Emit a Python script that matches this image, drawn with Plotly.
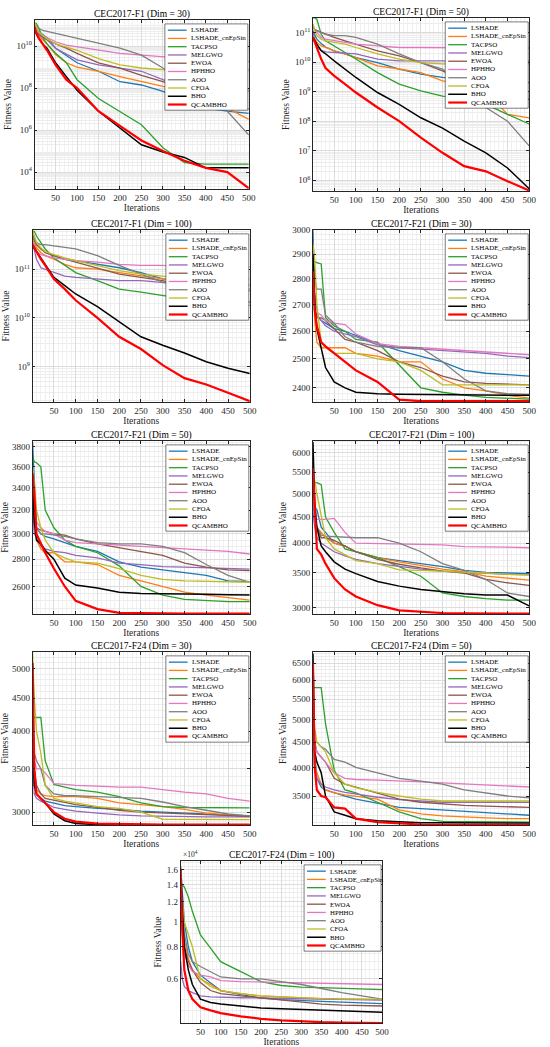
import numpy as np
import plotly.graph_objects as go

ITERS = [1, 5, 10, 20, 30, 50, 75, 100, 150, 200, 250, 300, 350, 400, 450, 500]

NAMES = ["LSHADE", "LSHADE_cnEpSin", "TACPSO", "MELGWO", "EWOA",
         "HPHHO", "AOO", "CFOA", "BHO", "QCAMBHO"]
COLORS = ["#1f77b4", "#ff7f0e", "#2ca02c", "#9467bd", "#8c564b",
          "#e377c2", "#7f7f7f", "#bcbd22", "#000000", "#ff0000"]
WIDTHS = [1.3, 1.3, 1.3, 1.3, 1.3, 1.3, 1.3, 1.3, 1.5, 2.2]

# ---- CEC2017-F1 ----
F1_D30 = {
    "LSHADE": [1e11, 6.3e10, 5e10, 3.5e10, 2.5e10, 7.9e9, 3.7e9, 1.6e9, 6.3e8, 2e8, 1.4e8, 7e7, 2.3e7, 1.1e7, 7.9e6, 6.3e6],
    "LSHADE_cnEpSin": [1e11, 5e10, 3.2e10, 2e10, 1.26e10, 4e9, 1.6e9, 1e9, 6.3e8, 3.5e8, 2e8, 1.2e8, 7.9e7, 3.2e7, 1.1e7, 3.2e6],
    "TACPSO": [1.2e11, 1.2e11, 7.9e10, 2.5e10, 1.26e10, 4.5e9, 1.6e9, 2.5e8, 3.2e7, 7.9e6, 1.8e6, 1.45e5, 2.8e4, 2.4e4, 2.4e4, 2.4e4],
    "MELGWO": [7e10, 5e10, 3.5e10, 2.5e10, 2e10, 7.9e9, 4e9, 2.2e9, 1.26e9, 9e8, 6.3e8, 2.5e8, 1e8, 1e8, 7.9e7, 7.4e7],
    "EWOA": [7.9e10, 5e10, 4e10, 2.8e10, 2e10, 1.26e10, 7.9e9, 4.5e9, 1.6e9, 9e8, 4e8, 2e8, 7.9e7, 5e7, 2.3e7, 1e7],
    "HPHHO": [7e10, 5.6e10, 4.5e10, 3.2e10, 2.5e10, 1.6e10, 1.1e10, 9.3e9, 6.3e9, 4.5e9, 3.7e9, 3.2e9, 2.6e9, 2.2e9, 1.9e9, 1.8e9],
    "AOO": [1.2e11, 9e10, 7e10, 5.6e10, 5e10, 4e10, 3.2e10, 2.3e10, 1.35e10, 7.9e9, 3.7e9, 9e8, 1.4e8, 3.2e7, 7.9e6, 5.8e5],
    "CFOA": [1.4e11, 7.9e10, 5e10, 3.2e10, 2.2e10, 1.26e10, 9e9, 6.3e9, 2.5e9, 1.26e9, 9e8, 7.6e8, 7.4e8, 7.4e8, 7.4e8, 7.4e8],
    "BHO": [7.9e10, 4e10, 2.5e10, 1.26e10, 7.9e9, 1.6e9, 3.5e8, 7.9e7, 7.9e6, 1.26e6, 2e5, 9e4, 5e4, 1.6e4, 1.6e4, 1.6e4],
    "QCAMBHO": [7.9e10, 4e10, 2.5e10, 1.26e10, 6.3e9, 1.26e9, 2.5e8, 1e8, 7.9e6, 1.6e6, 3.2e5, 1e5, 3.5e4, 1.6e4, 1e4, 1.7e3],
}
F1_D50 = {
    "LSHADE": [1.15e11, 8.9e10, 5.9e10, 4.2e10, 3.2e10, 2.4e10, 1.9e10, 1.4e10, 9.5e9, 5.8e9, 3.9e9, 3e9, 2.6e9, 2.6e9, 2.3e9, 2e9],
    "LSHADE_cnEpSin": [8.7e10, 6.8e10, 4.6e10, 3.5e10, 3.2e10, 2.4e10, 1.9e10, 1.4e10, 7.4e9, 5.8e9, 4.4e9, 2.3e9, 1.8e9, 1.05e9, 1.7e8, 1.3e8],
    "TACPSO": [3.1e11, 3.1e11, 2.8e11, 8.7e10, 5.2e10, 3.5e10, 2.1e10, 1.26e10, 4.4e9, 1.8e9, 1.05e9, 7e8, 5.5e8, 3.7e8, 1.7e8, 8e7],
    "MELGWO": [1.15e11, 5.2e10, 3.2e10, 2.5e10, 2.2e10, 2.1e10, 2e10, 1.9e10, 1.26e10, 1.1e10, 1.1e10, 1.1e10, 1.1e10, 1.1e10, 1.1e10, 1.1e10],
    "EWOA": [1.5e11, 1.26e11, 1.15e11, 1e11, 8.7e10, 6.8e10, 5.2e10, 4e10, 2.4e10, 1.6e10, 9.5e9, 5e9, 2.3e9, 7e8, 5.5e8, 5.5e8],
    "HPHHO": [1.9e11, 1.26e11, 1e11, 6.8e10, 5.9e10, 5.2e10, 4.6e10, 4e10, 3.5e10, 3.1e10, 3.1e10, 3.1e10, 3.1e10, 3.1e10, 2.95e10, 2.95e10],
    "AOO": [1.5e11, 1.26e11, 1.15e11, 1e11, 8.7e10, 7.8e10, 7.8e10, 6.8e10, 4e10, 1.9e10, 9.5e9, 5.8e9, 1.4e9, 2.9e8, 1e8, 1.45e7],
    "CFOA": [1.9e11, 1.15e11, 7.8e10, 5.9e10, 5.2e10, 4.6e10, 4e10, 3.1e10, 1.9e10, 1.26e10, 9.5e9, 8.7e9, 8.7e9, 8.7e9, 8.7e9, 8.7e9],
    "BHO": [6.8e10, 5.2e10, 4e10, 2.4e10, 1.9e10, 1.1e10, 5.8e9, 3e9, 9.3e8, 3.7e8, 1.3e8, 5.8e7, 2.1e7, 8.5e6, 2.6e6, 5.2e5],
    "QCAMBHO": [6.8e10, 4.6e10, 3.2e10, 1.26e10, 6.3e9, 3.4e9, 1.8e9, 9.3e8, 2.9e8, 1e8, 2.75e7, 8.5e6, 3e6, 2e6, 9.3e5, 4.5e5],
}
F1_D100 = {
    "LSHADE": [4.8e11, 3.8e11, 3.2e11, 2.6e11, 2.2e11, 1.9e11, 1.6e11, 1.5e11, 1.26e11, 1.07e11, 8.5e10, 6.3e10, 5.4e10, 4.6e10, 3.9e10, 3.6e10],
    "LSHADE_cnEpSin": [4.1e11, 3.5e11, 2.75e11, 2.2e11, 1.9e11, 1.6e11, 1.26e11, 1.07e11, 1e11, 8.5e10, 7.2e10, 6.3e10, 5.4e10, 4.3e10, 3.4e10, 2.1e10],
    "TACPSO": [6e11, 6e11, 4.8e11, 3.5e11, 2.6e11, 1.7e11, 1.2e11, 8.5e10, 5.8e10, 3.9e10, 3.4e10, 2.9e10, 2.45e10, 2.3e10, 1.95e10, 1.8e10],
    "MELGWO": [3.5e11, 2.6e11, 1.6e11, 1.07e11, 1e11, 8.5e10, 7.2e10, 6.8e10, 6.3e10, 5.8e10, 5.8e10, 5.4e10, 4.9e10, 4.9e10, 4.7e10, 4.7e10],
    "EWOA": [5.1e11, 4.1e11, 3.2e11, 2.6e11, 2.2e11, 1.9e11, 1.6e11, 1.4e11, 1.07e11, 7.9e10, 6.8e10, 5.8e10, 4.3e10, 3.4e10, 2.6e10, 2.1e10],
    "HPHHO": [3.8e11, 3e11, 2.3e11, 2e11, 1.9e11, 1.7e11, 1.6e11, 1.5e11, 1.4e11, 1.26e11, 1.2e11, 1.2e11, 1.12e11, 1.12e11, 1.12e11, 1.12e11],
    "AOO": [4.8e11, 4.1e11, 3.5e11, 3.2e11, 3.2e11, 3e11, 2.75e11, 2.6e11, 1.9e11, 1.2e11, 7.9e10, 5.4e10, 4.3e10, 4.3e10, 3.9e10, 3.9e10],
    "CFOA": [6.4e11, 4.8e11, 3.5e11, 2.75e11, 2.3e11, 2e11, 1.7e11, 1.5e11, 1.2e11, 9.3e10, 7.9e10, 7.2e10, 6.3e10, 6.3e10, 6.3e10, 6.3e10],
    "BHO": [3e11, 2.6e11, 2.3e11, 1.7e11, 1.26e11, 6.8e10, 4.6e10, 3.1e10, 1.7e10, 8.3e9, 4.1e9, 2.75e9, 1.9e9, 1.26e9, 9.3e8, 7.2e8],
    "QCAMBHO": [3.2e11, 2.75e11, 2.3e11, 1.6e11, 1.2e11, 6.3e10, 3.9e10, 2.3e10, 1e10, 4.1e9, 2.3e9, 1.07e9, 5.8e8, 4.3e8, 2.9e8, 1.95e8],
}

# ---- CEC2017-F21 ----
F21_D30 = {
    "LSHADE": [3000, 2750, 2660, 2640, 2630, 2610, 2600, 2585, 2555, 2530, 2510, 2490, 2460, 2450, 2445, 2440],
    "LSHADE_cnEpSin": [2850, 2640, 2560, 2540, 2540, 2540, 2540, 2520, 2510, 2490, 2490, 2430, 2400, 2390, 2375, 2365],
    "TACPSO": [2870, 2870, 2865, 2860, 2650, 2620, 2600, 2570, 2560, 2480, 2400, 2385, 2375, 2368, 2365, 2362],
    "MELGWO": [2800, 2720, 2660, 2640, 2620, 2600, 2590, 2580, 2550, 2540, 2535, 2530, 2525, 2520, 2510, 2505],
    "EWOA": [2850, 2700, 2650, 2650, 2640, 2610, 2570, 2560, 2530, 2490, 2470, 2440, 2420, 2415, 2412, 2410],
    "HPHHO": [2750, 2700, 2670, 2660, 2640, 2630, 2625, 2590, 2555, 2545, 2540, 2535, 2530, 2525, 2520, 2515],
    "AOO": [2950, 2800, 2760, 2760, 2660, 2630, 2580, 2560, 2545, 2540, 2540, 2490, 2430, 2390, 2380, 2378],
    "CFOA": [2940, 2880, 2700, 2560, 2540, 2520, 2520, 2520, 2500, 2490, 2460, 2410, 2410, 2410, 2410, 2410],
    "BHO": [2900, 2700, 2610, 2540, 2470, 2420, 2400, 2385, 2380, 2378, 2377, 2376, 2376, 2375, 2375, 2375],
    "QCAMBHO": [2830, 2680, 2620, 2560, 2545, 2520, 2490, 2460, 2420, 2360, 2355, 2355, 2355, 2355, 2355, 2355],
}
F21_D50 = {
    "LSHADE": [3850, 3400, 3050, 3000, 2980, 2960, 2930, 2900, 2860, 2780, 2740, 2720, 2700, 2680, 2640, 2635],
    "LSHADE_cnEpSin": [3400, 3100, 2950, 2880, 2850, 2850, 2780, 2780, 2760, 2680, 2640, 2600, 2560, 2540, 2520, 2505],
    "TACPSO": [3700, 3650, 3640, 3600, 3200, 3050, 2950, 2900, 2850, 2750, 2600, 2540, 2510, 2500, 2495, 2495],
    "MELGWO": [3200, 3000, 2970, 2900, 2880, 2860, 2850, 2830, 2810, 2770, 2760, 2745, 2740, 2735, 2730, 2725],
    "EWOA": [3300, 3100, 3050, 3030, 3020, 3000, 2990, 2960, 2920, 2890, 2860, 2830, 2770, 2740, 2720, 2715],
    "HPHHO": [3400, 3200, 3100, 3050, 3020, 3000, 2950, 2930, 2920, 2910, 2900, 2890, 2880, 2870, 2860, 2840],
    "AOO": [3500, 3200, 3050, 3000, 3000, 2990, 2980, 2960, 2930, 2920, 2920, 2900, 2850, 2760, 2680, 2630],
    "CFOA": [3600, 3450, 3200, 3050, 2950, 2850, 2810, 2780, 2770, 2730, 2680, 2650, 2640, 2635, 2632, 2630],
    "BHO": [3400, 3100, 2950, 2920, 2870, 2800, 2660, 2610, 2590, 2560, 2550, 2550, 2548, 2545, 2542, 2540],
    "QCAMBHO": [3540, 3350, 3000, 2920, 2850, 2730, 2600, 2500, 2445, 2420, 2417, 2416, 2415, 2415, 2415, 2415],
}
F21_D100 = {
    "LSHADE": [5000, 4700, 4650, 4300, 4200, 4000, 3950, 3850, 3750, 3700, 3650, 3600, 3540, 3510, 3500, 3490],
    "LSHADE_cnEpSin": [4900, 4500, 4300, 4200, 4100, 4000, 3950, 3850, 3750, 3680, 3620, 3560, 3520, 3450, 3420, 3390],
    "TACPSO": [5200, 5250, 5250, 5200, 4500, 4200, 3900, 3850, 3750, 3600, 3450, 3200, 3150, 3120, 3100, 3100],
    "MELGWO": [4600, 4300, 4100, 4000, 3950, 3850, 3780, 3720, 3650, 3600, 3560, 3530, 3510, 3490, 3480, 3470],
    "EWOA": [4800, 4500, 4300, 4100, 4100, 4050, 3950, 3850, 3720, 3640, 3580, 3530, 3500, 3400, 3350, 3310],
    "HPHHO": [4700, 4500, 4450, 4450, 4450, 4470, 4200, 4000, 3990, 3985, 3980, 3970, 3940, 3940, 3930, 3920],
    "AOO": [4800, 4500, 4300, 4150, 4130, 4120, 4110, 4100, 4100, 4000, 3850, 3650, 3540, 3400, 3200, 3150],
    "CFOA": [5300, 5300, 5000, 4500, 4100, 3900, 3800, 3700, 3650, 3550, 3540, 3530, 3520, 3500, 3480, 3470],
    "BHO": [6300, 4800, 4300, 3950, 3850, 3680, 3560, 3490, 3370, 3300, 3250, 3215, 3190, 3170, 3170, 3020],
    "QCAMBHO": [5600, 4600, 3900, 3800, 3650, 3420, 3250, 3150, 3030, 2960, 2940, 2925, 2920, 2918, 2918, 2918],
}

# ---- CEC2017-F24 ----
F24_D30 = {
    "LSHADE": [4000, 3400, 3200, 3150, 3120, 3100, 3070, 3060, 3040, 3030, 3010, 3000, 2990, 2985, 2970, 2960],
    "LSHADE_cnEpSin": [3900, 3400, 3250, 3200, 3180, 3170, 3170, 3170, 3150, 3100, 3080, 3060, 3030, 2990, 2970, 2950],
    "TACPSO": [4200, 4200, 4200, 4200, 3600, 3310, 3280, 3250, 3220, 3170, 3100, 3060, 3050, 3050, 3045, 3045],
    "MELGWO": [3600, 3200, 3150, 3120, 3100, 3050, 3030, 3010, 2990, 2970, 2960, 2955, 2950, 2950, 2950, 2950],
    "EWOA": [3800, 3500, 3300, 3200, 3150, 3130, 3100, 3080, 3050, 3020, 3000, 2990, 2980, 2970, 2960, 2955],
    "HPHHO": [4000, 3600, 3500, 3500, 3450, 3320, 3310, 3300, 3290, 3280, 3280, 3250, 3220, 3200, 3150, 3120],
    "AOO": [4200, 3700, 3600, 3500, 3300, 3200, 3180, 3180, 3170, 3160, 3150, 3110, 3060, 3020, 2980, 2960],
    "CFOA": [5300, 4500, 4000, 3700, 3300, 3150, 3120, 3100, 3060, 3040, 3000, 2925, 2922, 2920, 2920, 2920],
    "BHO": [4000, 3300, 3200, 3150, 3100, 2980, 2910, 2880, 2870, 2868, 2868, 2868, 2868, 2868, 2868, 2868],
    "QCAMBHO": [5100, 3500, 3200, 3150, 3100, 3000, 2930, 2900, 2880, 2875, 2872, 2870, 2870, 2870, 2870, 2870],
}
F24_D50 = {
    "LSHADE": [5000, 4000, 3800, 3650, 3600, 3550, 3500, 3450, 3380, 3320, 3300, 3280, 3260, 3230, 3220, 3200],
    "LSHADE_cnEpSin": [5000, 4200, 3900, 3700, 3600, 3550, 3520, 3500, 3450, 3280, 3220, 3190, 3170, 3160, 3150, 3150],
    "TACPSO": [5800, 5800, 5800, 5800, 4900, 3950, 3600, 3550, 3400, 3250, 3150, 3110, 3105, 3100, 3100, 3100],
    "MELGWO": [4800, 4200, 3800, 3700, 3650, 3600, 3560, 3530, 3480, 3440, 3420, 3400, 3400, 3400, 3400, 3400],
    "EWOA": [5200, 4500, 4300, 4200, 4100, 3800, 3700, 3650, 3550, 3450, 3400, 3370, 3350, 3340, 3330, 3320],
    "HPHHO": [5000, 4500, 4300, 4200, 4100, 3900, 3800, 3780, 3770, 3760, 3740, 3720, 3700, 3690, 3670, 3650],
    "AOO": [4800, 4500, 4500, 4400, 4350, 4150, 4100, 4000, 3900, 3800, 3750, 3700, 3600, 3550, 3500, 3470],
    "CFOA": [5500, 4800, 4500, 4400, 4300, 3900, 3700, 3640, 3560, 3500, 3450, 3420, 3420, 3420, 3420, 3420],
    "BHO": [6800, 4300, 4100, 3900, 3500, 3250, 3200, 3150, 3120, 3100, 3090, 3090, 3088, 3087, 3086, 3085],
    "QCAMBHO": [6500, 4000, 3600, 3500, 3480, 3320, 3300, 3150, 3100, 3080, 3065, 3060, 3060, 3058, 3058, 3058],
}
F24_D100 = {
    "LSHADE": [16500, 13000, 10000, 8000, 7000, 6200, 5800, 5400, 5200, 5050, 4980, 4930, 4900, 4870, 4830, 4800],
    "LSHADE_cnEpSin": [13000, 10000, 8500, 7200, 6500, 6000, 5700, 5400, 5250, 5150, 5100, 5050, 5020, 5000, 4990, 4980],
    "TACPSO": [13900, 13900, 13700, 12500, 11000, 8900, 7900, 7000, 6400, 5850, 5650, 5570, 5540, 5500, 5470, 5440],
    "MELGWO": [7000, 6000, 5600, 5400, 5300, 5150, 5100, 5080, 5060, 5050, 5040, 5030, 5020, 5000, 4980, 4960],
    "EWOA": [12000, 9500, 8000, 7000, 6500, 5800, 5400, 5250, 5150, 5050, 4950, 4850, 4780, 4740, 4720, 4700],
    "HPHHO": [12000, 9000, 7500, 6800, 6400, 6200, 6100, 5900, 5850, 5830, 5800, 5780, 5760, 5740, 5720, 5700],
    "AOO": [14000, 11000, 9000, 7500, 7000, 6700, 6400, 6100, 6000, 6000, 5850, 5700, 5500, 5300, 5150, 5000],
    "CFOA": [13000, 12000, 10000, 9000, 8000, 6000, 5600, 5400, 5250, 5150, 5100, 5050, 5020, 5000, 5000, 5000],
    "BHO": [15000, 10700, 8000, 6500, 5700, 5000, 4850, 4780, 4690, 4620, 4580, 4550, 4520, 4500, 4470, 4440],
    "QCAMBHO": [16000, 9300, 6500, 5400, 5000, 4650, 4520, 4410, 4280, 4190, 4130, 4090, 4065, 4050, 4040, 4030],
}

X_TICKS = [50, 100, 150, 200, 250, 300, 350, 400, 450, 500]


def pow_labels(exps):
    return ["10<sup>%d</sup>" % e for e in exps]


# panel layout: data, title, plot box in pixels (left, top, right, bottom), y limits, ticks
PANELS = [
    dict(data=F1_D30, title="CEC2017-F1 (Dim = 30)", box=(35, 15, 252, 185), ylim=(1.55e3, 1.75e11),
         tv=[1e4, 1e6, 1e8, 1e10], tt=pow_labels([4, 6, 8, 10]),
         minor=[m * 10.0 ** k for k in range(3, 12) for m in range(2, 10)]),
    dict(data=F1_D50, title="CEC2017-F1 (Dim = 50)", box=(317, 13, 536, 187), ylim=(4.3e5, 3.1e11),
         tv=[1e6, 1e7, 1e8, 1e9, 1e10, 1e11], tt=pow_labels([6, 7, 8, 9, 10, 11]),
         minor=[m * 10.0 ** k for k in range(5, 12) for m in range(2, 10)]),
    dict(data=F1_D100, title="CEC2017-F1 (Dim = 100)", box=(33, 226, 253, 399), ylim=(1.87e8, 6.4e11),
         tv=[1e9, 1e10, 1e11], tt=pow_labels([9, 10, 11]),
         minor=[m * 10.0 ** k for k in range(8, 12) for m in range(2, 10)]),
    dict(data=F21_D30, title="CEC2017-F21 (Dim = 30)", box=(317, 226, 536, 399), ylim=(2352, 3001),
         tv=[2400, 2500, 2600, 2700, 2800, 2900, 3000], tt=None,
         minor=list(range(2360, 3001, 20))),
    dict(data=F21_D50, title="CEC2017-F21 (Dim = 50)", box=(33, 438, 253, 612), ylim=(2412, 3863),
         tv=[2600, 2800, 3000, 3200, 3400, 3600, 3800], tt=None,
         minor=list(range(2450, 3851, 50))),
    dict(data=F21_D100, title="CEC2017-F21 (Dim = 100)", box=(317, 438, 536, 612), ylim=(2911, 6330),
         tv=[3000, 3500, 4000, 4500, 5000, 5500, 6000], tt=None,
         minor=list(range(3000, 6301, 100))),
    dict(data=F24_D30, title="CEC2017-F24 (Dim = 30)", box=(33, 650, 253, 824), ylim=(2865, 5304),
         tv=[3000, 3500, 4000, 4500, 5000], tt=None,
         minor=list(range(2900, 5301, 100))),
    dict(data=F24_D50, title="CEC2017-F24 (Dim = 50)", box=(317, 650, 536, 824), ylim=(3057, 6850),
         tv=[3500, 4000, 4500, 5000, 5500, 6000, 6500], tt=None,
         minor=list(range(3100, 6801, 100))),
    dict(data=F24_D100, title="CEC2017-F24 (Dim = 100)", box=(183, 860, 387, 1023), ylim=(4030, 17300),
         tv=[6000, 8000, 10000, 12000, 14000, 16000], tt=["0.6", "0.8", "1", "1.2", "1.4", "1.6"],
         minor=list(range(4500, 17001, 500))),
]

W, H = 550, 1047
FONT = "Liberation Serif"
AXC = "#262626"


def fx(px):
    return px / W


def fy(py):
    return 1 - py / H


fig = go.Figure()
shapes = []
annotations = []

for i, p in enumerate(PANELS, start=1):
    l, t, r, b = p["box"]
    xa = "x" if i == 1 else "x%d" % i
    ya = "y" if i == 1 else "y%d" % i
    for name, color, w in zip(NAMES, COLORS, WIDTHS):
        fig.add_trace(go.Scatter(
            x=ITERS, y=p["data"][name], mode="lines", name=name,
            line=dict(color=color, width=w), xaxis=xa, yaxis=ya, showlegend=False,
        ))

    fig.update_layout(**{
        ("xaxis" if i == 1 else "xaxis%d" % i): dict(
            domain=[fx(l), fx(r)], anchor=ya, range=[1, 500],
            tickmode="array", tickvals=X_TICKS, ticks="inside", ticklen=3,
            tickcolor=AXC, showline=True, mirror="ticks", linecolor=AXC, linewidth=0.7,
            showgrid=True, gridcolor="#dcdcdc", gridwidth=0.6, zeroline=False,
            minor=dict(dtick=10, tick0=0, showgrid=True, gridcolor="#f1f1f1", gridwidth=0.5),
            tickfont=dict(family=FONT, size=9, color=AXC),
            title=dict(text="Iterations", font=dict(family=FONT, size=9.5, color=AXC), standoff=0),
        ),
        ("yaxis" if i == 1 else "yaxis%d" % i): dict(
            domain=[fy(b), fy(t)], anchor=xa, type="log",
            range=[np.log10(p["ylim"][0]), np.log10(p["ylim"][1])],
            tickmode="array", tickvals=p["tv"], ticktext=p["tt"] if p["tt"] else [str(v) for v in p["tv"]],
            ticks="inside", ticklen=3, tickcolor=AXC,
            showline=True, mirror="ticks", linecolor=AXC, linewidth=0.7,
            showgrid=True, gridcolor="#dcdcdc", gridwidth=0.6, zeroline=False,
            minor=dict(tickmode="array", tickvals=p["minor"], showgrid=True,
                       gridcolor="#ededed", gridwidth=0.5),
            tickfont=dict(family=FONT, size=9, color=AXC),
            title=dict(text="Fitness Value", font=dict(family=FONT, size=9.5, color=AXC), standoff=3),
        ),
    })

    annotations.append(dict(
        text=p["title"], x=fx((l + r) / 2), y=fy(t), xref="paper", yref="paper",
        xanchor="center", yanchor="bottom", showarrow=False, yshift=-2,
        font=dict(family=FONT, size=9.5, color="#000000"),
    ))

    # legend box in the top-right corner of each panel
    lw = 78 if i == 9 else 84
    lr = r - 1
    ll = lr - lw
    lt = t + 4
    step = 8.3
    lb = lt + 6 + 9 * step + 6
    shapes.append(dict(type="rect", xref="paper", yref="paper",
                       x0=fx(ll), x1=fx(lr), y0=fy(lb), y1=fy(lt),
                       fillcolor="white", line=dict(color=AXC, width=0.6), layer="above"))
    for k, (name, color, w) in enumerate(zip(NAMES, COLORS, WIDTHS)):
        yy = lt + 6.3 + k * step
        shapes.append(dict(type="line", xref="paper", yref="paper",
                           x0=fx(ll + 3), x1=fx(ll + 22), y0=fy(yy), y1=fy(yy),
                           line=dict(color=color, width=w), layer="above"))
        annotations.append(dict(
            text=name, x=fx(ll + 24), y=fy(yy), xref="paper", yref="paper",
            xanchor="left", yanchor="middle", showarrow=False,
            font=dict(family=FONT, size=6.8 if i == 9 else 7, color="#000000"),
        ))

# exponent label of the last panel
l9, t9 = PANELS[8]["box"][0], PANELS[8]["box"][1]
annotations.append(dict(
    text="×10<sup>4</sup>", x=fx(l9), y=fy(t9), xref="paper", yref="paper",
    xanchor="left", yanchor="bottom", showarrow=False,
    font=dict(family=FONT, size=7.5, color=AXC),
))

fig.update_layout(
    width=W, height=H, margin=dict(l=0, r=0, t=0, b=0),
    paper_bgcolor="white", plot_bgcolor="white",
    shapes=shapes, annotations=annotations, showlegend=False,
)

# the page body has a default 8px margin; drop it so the figure fills the window
fig.write_html("out.html", config={"displayModeBar": False},
               post_script="document.body.style.margin='0px';")
